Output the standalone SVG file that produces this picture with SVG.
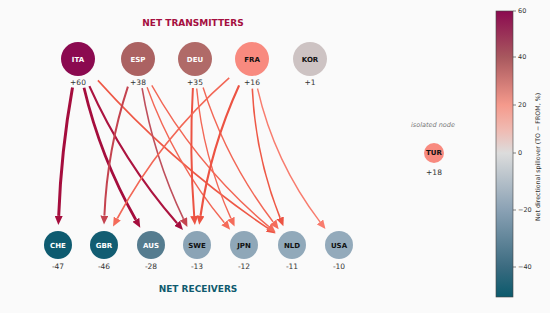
<svg xmlns="http://www.w3.org/2000/svg" width="550" height="313" viewBox="0 0 550 313">
<defs>
<style>
.bg{fill:#fafafa}
.nl{font-family:"DejaVu Sans",sans-serif;font-weight:bold;font-size:7px;text-anchor:middle}
.w{fill:#ffffff}
.k{fill:#111111}
.val{font-family:"DejaVu Sans",sans-serif;font-size:7.5px;fill:#333;text-anchor:middle}
.title{font-family:"DejaVu Sans",sans-serif;font-weight:bold;font-size:9px;text-anchor:middle}
.e{fill:none;stroke-linecap:butt}
.tick{font-family:"DejaVu Sans",sans-serif;font-size:6.5px;fill:#333}
</style>
<marker id="mA" markerUnits="userSpaceOnUse" markerWidth="10" markerHeight="8" refX="0" refY="4" orient="auto"><path d="M0,0 L9,4 L0,8 z" fill="#a50d3d"/></marker>
<marker id="mB" markerUnits="userSpaceOnUse" markerWidth="10" markerHeight="8" refX="0" refY="4" orient="auto"><path d="M0,0 L9,4 L0,8 z" fill="#c4434f"/></marker>
<marker id="mC" markerUnits="userSpaceOnUse" markerWidth="10" markerHeight="8" refX="0" refY="4" orient="auto"><path d="M0,0 L9,4 L0,8 z" fill="#ec5343"/></marker>
<marker id="mD" markerUnits="userSpaceOnUse" markerWidth="10" markerHeight="8" refX="0" refY="4" orient="auto"><path d="M0,0 L9,4 L0,8 z" fill="#f46b5a"/></marker>
<marker id="mE" markerUnits="userSpaceOnUse" markerWidth="10" markerHeight="8" refX="0" refY="4" orient="auto"><path d="M0,0 L9,4 L0,8 z" fill="#f87c6e"/></marker>
<linearGradient id="cb" x1="0" y1="0" x2="0" y2="1">
<stop offset="0" stop-color="#8b0a50"/>
<stop offset="0.161" stop-color="#a8585e"/>
<stop offset="0.329" stop-color="#f59a8c"/>
<stop offset="0.42" stop-color="#efbcb4"/>
<stop offset="0.497" stop-color="#dcdcdc"/>
<stop offset="0.696" stop-color="#8aa1b4"/>
<stop offset="0.895" stop-color="#3b6b80"/>
<stop offset="1" stop-color="#0b5a6c"/>
</linearGradient>
</defs>
<rect class="bg" x="0" y="0" width="550" height="313"/>

<text class="title" x="193" y="26" fill="#a50f40">NET TRANSMITTERS</text>
<text class="title" x="198" y="292" fill="#0f5a6e">NET RECEIVERS</text>

<g id="connectors">
<path class="e" d="M72.5,87.6 Q61.1,151.3 58.7,215.9" stroke="#a50d3d" stroke-width="3" marker-end="url(#mA)"/>
<path class="e" d="M84,87.8 Q100.5,157.5 135.8,219.8" stroke="#a50d3d" stroke-width="2.8" marker-end="url(#mA)"/>
<path class="e" d="M89.4,86.1 Q123.1,161.2 177.1,223.3" stroke="#ac1440" stroke-width="2.2" marker-end="url(#mA)"/>
<path class="e" d="M97.9,80.4 Q173.8,164.8 268.1,228.4" stroke="#ee5846" stroke-width="1.6" marker-end="url(#mC)"/>
<path class="e" d="M127.9,86.6 Q107.2,149.5 104.4,215.6" stroke="#c4434f" stroke-width="2" marker-end="url(#mB)"/>
<path class="e" d="M142.1,88.1 Q153.6,156.4 183.5,218.9" stroke="#bf4f5c" stroke-width="1.6" marker-end="url(#mB)"/>
<path class="e" d="M147.1,87.2 Q173.9,161.7 224.4,222.8" stroke="#f26756" stroke-width="1.4" marker-end="url(#mD)"/>
<path class="e" d="M151.8,85.3 Q197.4,166.6 268.8,226.6" stroke="#f26756" stroke-width="1.4" marker-end="url(#mD)"/>
<path class="e" d="M192.9,88 Q189.2,152.1 194.2,216" stroke="#ec5343" stroke-width="2" marker-end="url(#mC)"/>
<path class="e" d="M196.7,88.5 Q202.9,156.4 230.9,218.4" stroke="#f26756" stroke-width="1.4" marker-end="url(#mD)"/>
<path class="e" d="M203.1,87.5 Q226.5,160.9 273.2,222" stroke="#f26756" stroke-width="1.4" marker-end="url(#mD)"/>
<path class="e" d="M229.2,77.9 Q160.5,138.1 117.3,218.5" stroke="#f26756" stroke-width="1.6" marker-end="url(#mD)"/>
<path class="e" d="M239.1,85.4 Q210.6,147.9 200.5,215.8" stroke="#ec5343" stroke-width="2.2" marker-end="url(#mC)"/>
<path class="e" d="M252.3,88.6 Q255.4,155.6 280.1,217.9" stroke="#ee5846" stroke-width="1.6" marker-end="url(#mC)"/>
<path class="e" d="M257.5,88.5 Q274.4,161.9 320,221.9" stroke="#f87c6e" stroke-width="1.4" marker-end="url(#mE)"/>
</g>

<g id="ITA"><circle cx="78" cy="59" r="17" fill="#8b0a50"/><text class="nl w" x="78" y="61.5">ITA</text><text class="val" x="78" y="85">+60</text></g>
<g id="ESP"><circle cx="138" cy="59" r="17" fill="#ab6262"/><text class="nl w" x="138" y="61.5">ESP</text><text class="val" x="138" y="85">+38</text></g>
<g id="DEU"><circle cx="195" cy="59" r="17" fill="#b06a68"/><text class="nl w" x="195" y="61.5">DEU</text><text class="val" x="195" y="85">+35</text></g>
<g id="FRA"><circle cx="252" cy="59" r="17" fill="#f88a7f"/><text class="nl k" x="252" y="61.5">FRA</text><text class="val" x="252" y="85">+16</text></g>
<g id="KOR"><circle cx="310" cy="59" r="17" fill="#cdc3c3"/><text class="nl k" x="310" y="61.5">KOR</text><text class="val" x="310" y="85">+1</text></g>

<g id="CHE"><circle cx="58" cy="245" r="14" fill="#0e5b70"/><text class="nl w" x="58" y="247.5">CHE</text><text class="val" x="58" y="269">-47</text></g>
<g id="GBR"><circle cx="104" cy="245" r="14" fill="#125d72"/><text class="nl w" x="104" y="247.5">GBR</text><text class="val" x="104" y="269">-46</text></g>
<g id="AUS"><circle cx="151" cy="245" r="14" fill="#557c8f"/><text class="nl w" x="151" y="247.5">AUS</text><text class="val" x="151" y="269">-28</text></g>
<g id="SWE"><circle cx="197" cy="245" r="14" fill="#8ba4b6"/><text class="nl k" x="197" y="247.5">SWE</text><text class="val" x="197" y="269">-13</text></g>
<g id="JPN"><circle cx="244" cy="245" r="14" fill="#8fa7b8"/><text class="nl k" x="244" y="247.5">JPN</text><text class="val" x="244" y="269">-12</text></g>
<g id="NLD"><circle cx="292" cy="245" r="14" fill="#91a9ba"/><text class="nl k" x="292" y="247.5">NLD</text><text class="val" x="292" y="269">-11</text></g>
<g id="USA"><circle cx="339" cy="245" r="14" fill="#93aabb"/><text class="nl k" x="339" y="247.5">USA</text><text class="val" x="339" y="269">-10</text></g>

<g id="TUR">
<text x="433" y="126.5" font-family="DejaVu Sans, sans-serif" font-style="italic" font-size="6.5" fill="#777" text-anchor="middle">isolated node</text>
<circle cx="434" cy="153" r="10" fill="#f88a7f"/><text class="nl k" x="434" y="155.3" font-size="6">TUR</text><text class="val" x="434" y="175">+18</text>
</g>

<g id="colorbar">
<rect x="496" y="11" width="17" height="286" fill="url(#cb)" stroke="#444" stroke-width="0.6"/>
<g stroke="#333" stroke-width="0.6">
<line x1="513" y1="11" x2="516" y2="11"/>
<line x1="513" y1="57" x2="516" y2="57"/>
<line x1="513" y1="105" x2="516" y2="105"/>
<line x1="513" y1="153" x2="516" y2="153"/>
<line x1="513" y1="210" x2="516" y2="210"/>
<line x1="513" y1="267" x2="516" y2="267"/>
</g>
<text class="tick" x="518" y="13.3">60</text>
<text class="tick" x="518" y="59.3">40</text>
<text class="tick" x="518" y="107.3">20</text>
<text class="tick" x="518" y="155.3">0</text>
<text class="tick" x="518" y="212.3">−20</text>
<text class="tick" x="518" y="269.3">−40</text>
<text transform="translate(540,157) rotate(-90)" font-family="DejaVu Sans, sans-serif" font-size="6.3" fill="#333" text-anchor="middle">Net directional spillover (TO − FROM, %)</text>
</g>
</svg>
